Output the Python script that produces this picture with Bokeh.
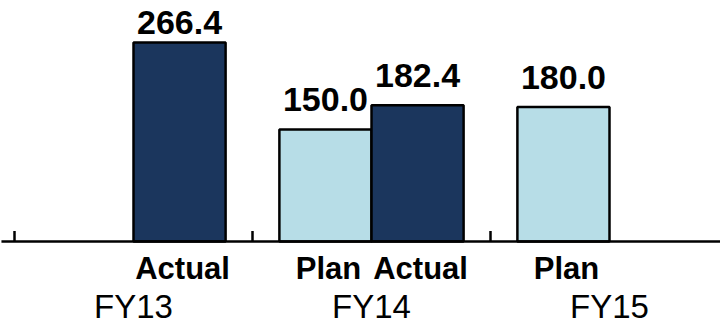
import numpy as np
from bokeh.plotting import figure
from bokeh.models import Range1d, ColumnDataSource
from bokeh.core.properties import value
from bokeh.embed import file_html
from bokeh.resources import INLINE

# ---- data ----
years = ["FY13", "FY14", "FY15"]
plan = [np.nan, 150.0, 180.0]
actual = [266.4, 182.4, np.nan]
series_names = ["Plan", "Actual"]

DARK = "#1b365d"
LIGHT = "#b7dde7"
FONT = "Liberation Sans"

p = figure(width=720, height=326, output_backend="svg", toolbar_location=None,
           x_range=Range1d(-14 / 238, 706 / 238), y_range=Range1d(-113.8, 322.6),
           min_border=0)
p.axis.visible = False
p.grid.visible = False
p.outline_line_color = None
p.background_fill_color = "white"
p.border_fill_color = "white"

BW = 0.387
centers = np.arange(len(years)) + 0.5

rows = []
for vals, name, color, off in [(plan, "Plan", LIGHT, -BW / 2), (actual, "Actual", DARK, BW / 2)]:
    for c, v in zip(centers, vals):
        if not np.isnan(v):
            rows.append((c + off, v, name, color))

tops = np.array([r[1] for r in rows])
src = ColumnDataSource(dict(
    x=[r[0] for r in rows],
    top=list(tops),
    name=[r[2] for r in rows],
    color=[r[3] for r in rows],
    lab=[f"{t:.1f}" for t in tops],
    laby=list(np.minimum(tops + 25.4, 278.4)),
))

p.vbar(x="x", top="top", bottom=0, width=BW, fill_color="color",
       line_color="black", line_width=2.5, source=src)

# axis line and ticks
p.line(x=[-14 / 238 + 0.004, 706 / 238], y=[0, 0], line_color="black", line_width=2.5)
bounds = np.arange(len(years))
p.segment(x0=bounds, y0=0, x1=bounds, y1=14, line_color="black", line_width=2.5)

# value labels
p.text(x="x", y="laby", text="lab", source=src, text_align="center", y_offset=-11,
       text_baseline="alphabetic", text_font=value(FONT), text_font_style="bold",
       text_font_size="34px", text_color="black")

# series labels under bars
p.text(x="x", y=-52.2, text="name", source=src, text_align="center", x_offset=3, y_offset=-12,
       text_baseline="alphabetic", text_font=value(FONT), text_font_style="bold",
       text_font_size="31px", text_color="black")

# year labels
p.text(x=centers, y=[-105.8] * len(years), text=years, text_align="center", y_offset=-14,
       text_baseline="alphabetic", text_font=value(FONT),
       text_font_size="33px", text_color="black")

open("out.html", "w").write(file_html(p, INLINE))
